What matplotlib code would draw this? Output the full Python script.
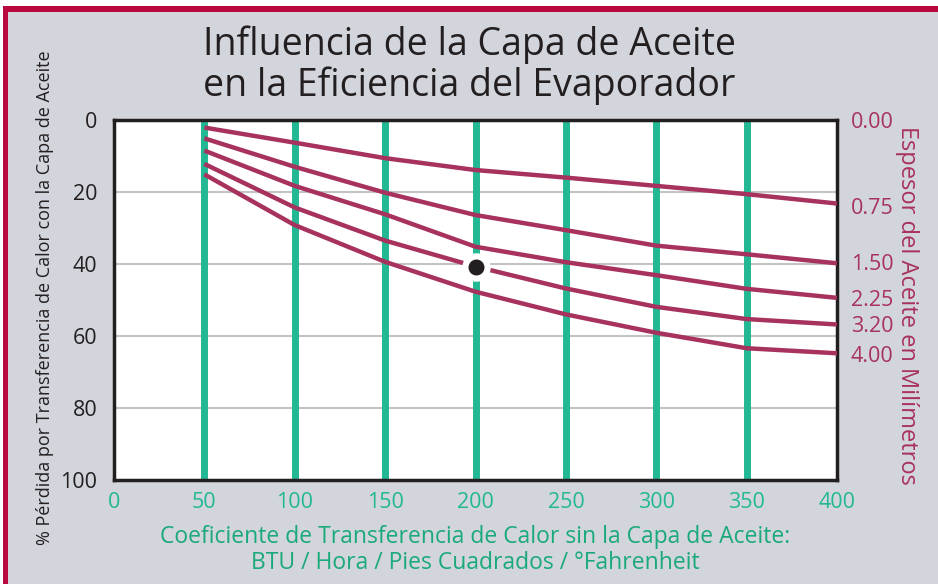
import matplotlib.pyplot as plt
from matplotlib.patches import Rectangle

# Data
coef = [50, 100, 150, 200, 250, 300, 350, 400]
espesores = ['0.75', '1.50', '2.25', '3.20', '4.00']
perdidas = [
    [2.1, 6.3, 10.6, 13.9, 16.0, 18.3, 20.6, 23.2],
    [5.1, 13.0, 20.2, 26.4, 30.6, 34.9, 37.3, 39.8],
    [8.5, 18.3, 26.2, 35.2, 39.5, 43.1, 46.9, 49.4],
    [12.2, 24.3, 33.5, 40.7, 46.8, 51.9, 55.3, 56.8],
    [15.1, 29.2, 39.4, 47.7, 54.0, 59.1, 63.4, 64.8],
]
punto = (200, 40.7)
right_ticks = [0, 24, 39.5, 49.5, 56.7, 65]
right_labels = ['0.00', '0.75', '1.50', '2.25', '3.20', '4.00']

green = '#22b893'
wine = '#a8325e'
gray_bg = '#d2d5dc'
red = '#b8083d'

plt.rcParams['font.family'] = ['Open Sans', 'DejaVu Sans']

fig = plt.figure(figsize=(9.38, 5.84), dpi=100)
fig.patch.set_facecolor('white')

# panel and red border
fig.patches.append(Rectangle((3/938, 0), 1, 1 - 6/584, transform=fig.transFigure,
                             facecolor=red, edgecolor='none', zorder=-2))
fig.patches.append(Rectangle((8/938, 0), 1, 1 - 12/584, transform=fig.transFigure,
                             facecolor=gray_bg, edgecolor='none', zorder=-1))

ax = fig.add_axes([114/938, 1 - 480/584, 723/938, 360/584])
ax.set_facecolor('white')

# grid lines
for y in [20, 40, 60, 80]:
    ax.axhline(y, color='#c4c4c4', lw=1.5, zorder=1)
for x in coef:
    if x < 400:
        ax.axvline(x, color=green, lw=5, zorder=2)

for serie in perdidas:
    ax.plot(coef, serie, color=wine, lw=3.2, zorder=3, solid_capstyle='butt')

ax.plot(*punto, 'o', color='#231f20', ms=16, mec='white', mew=4.5, zorder=4)

ax.set_xlim(0, 400)
ax.set_ylim(100, 0)
ax.set_xticks(range(0, 401, 50))
ax.set_yticks(range(0, 101, 20))
ax.tick_params(axis='x', colors=green, labelsize=15.5, length=0, pad=9)
ax.tick_params(axis='y', colors='#231f20', labelsize=15.5, length=0, pad=12)
for s in ax.spines.values():
    s.set_color('#231f20')
    s.set_linewidth(2.5)

ax.set_xlabel('Coeficiente de Transferencia de Calor sin la Capa de Aceite:\n'
              'BTU / Hora / Pies Cuadrados / °Fahrenheit',
              color='#1aa97a', fontsize=16.5, linespacing=1.15, labelpad=8)
fig.text(45/938, 1 - 298/584, '% Pérdida por Transferencia de Calor con la Capa de Aceite',
         rotation=90, ha='center', va='center', fontsize=13, color='#231f20')

ax2 = ax.twinx()
ax2.set_ylim(100, 0)
ax2.set_yticks(right_ticks)
ax2.set_yticklabels(right_labels)
ax2.tick_params(axis='y', colors=wine, labelsize=15.5, length=0, pad=10)
for s in ax2.spines.values():
    s.set_visible(False)
fig.text(907/938, 1 - 305/584, 'Espesor del Aceite en Milímetros', rotation=-90,
         ha='center', va='center', fontsize=17, color=wine)

fig.text(469/938, 1 - 65/584, 'Influencia de la Capa de Aceite\nen la Eficiencia del Evaporador',
         ha='center', va='center', fontsize=27, color='#231f20', linespacing=1.1)

fig.savefig('out.png', dpi=100)
